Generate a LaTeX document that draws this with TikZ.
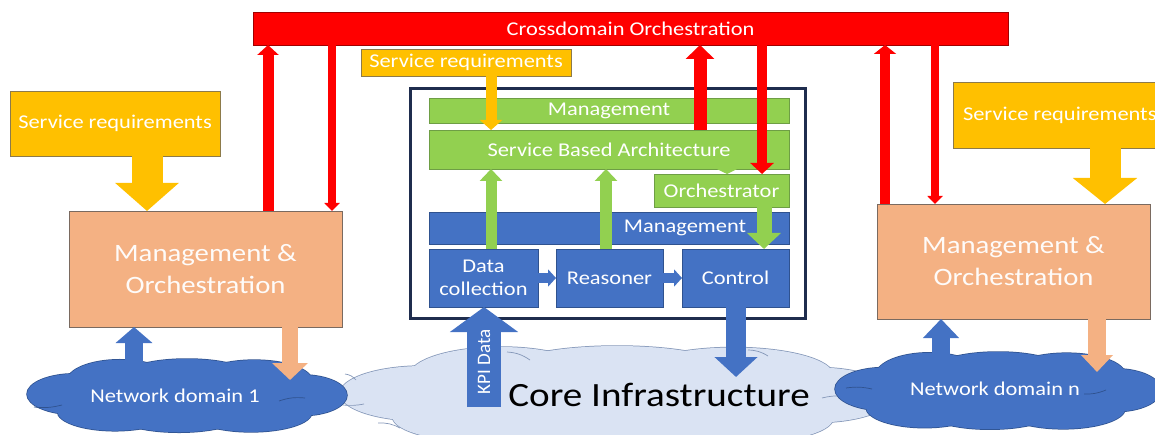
\documentclass[tikz,border=0pt]{standalone}
\usepackage{fontspec}
\setmainfont{Carlito}[FakeStretch=1.15]
\newfontfamily\uprightfont{Carlito}
\usetikzlibrary{arrows.meta}

\definecolor{xred}{HTML}{FF0000}
\definecolor{xrededge}{HTML}{A00000}
\definecolor{xyellow}{HTML}{FFC000}
\definecolor{xyellowedge}{HTML}{8C7A4A}
\definecolor{xsalmon}{HTML}{F4B183}
\definecolor{xsalmonedge}{HTML}{7A6A60}
\definecolor{xgreen}{HTML}{92D050}
\definecolor{xgreenedge}{HTML}{6E9E45}
\definecolor{xblue}{HTML}{4472C4}
\definecolor{xblueedge}{HTML}{2F528F}
\definecolor{xlight}{HTML}{DAE3F3}
\definecolor{xlightedge}{HTML}{8497B8}
\definecolor{xframe}{HTML}{1F2D4E}

\newcommand{\txtS}{\fontsize{19.5}{23}\selectfont}
\newcommand{\txtM}{\fontsize{25}{32}\selectfont}
\newcommand{\txtL}{\fontsize{34}{40}\selectfont}

% lobes of a cloud in unit coordinates: centre x / centre y / radius x / radius y
\newcommand{\cloudlobes}{-0.70/0.05/0.30/0.55, -0.42/0.40/0.33/0.58, 0.00/0.48/0.42/0.52,
  0.42/0.42/0.36/0.55, 0.72/0.02/0.28/0.55, 0.40/-0.45/0.38/0.52,
  -0.05/-0.50/0.40/0.48, -0.45/-0.42/0.36/0.52, 0/0/0.72/0.62}
% \puffcloud{cx}{cy}{half width}{half height}{fill}{edge}
\newcommand{\puffcloud}[6]{%
  \begin{scope}[shift={(#1,#2)}, x=#3pt, y=#4pt]
    \foreach \a/\b/\c/\d in \cloudlobes
      \draw[#6, line width=1.5pt] (\a,\b) ellipse [x radius=\c, y radius=\d];
    \foreach \a/\b/\c/\d in \cloudlobes
      \fill[#5] (\a,\b) ellipse [x radius=\c, y radius=\d];
  \end{scope}}

\tikzset{
  panel/.style={draw, line width=0.6pt, inner sep=0pt, outer sep=0pt,
    anchor=north west, text=white, font=\txtS, align=center},
  redbox/.style={panel, fill=xred, draw=xrededge},
  yellowbox/.style={panel, fill=xyellow, draw=xyellowedge},
  salmonbox/.style={panel, fill=xsalmon, draw=xsalmonedge, font=\txtM, text=white!95!xsalmon},
  greenbox/.style={panel, fill=xgreen, draw=xgreenedge},
  bluebox/.style={panel, fill=xblue, draw=xblueedge},
  label/.style={text=white, font=\txtS, inner sep=0pt},
  crease/.style={line width=0.7pt},
  blk/.style n args={4}{draw=#1, line width=#2, -{Triangle[width=#3,length=#4]}},
}

\begin{document}
\begin{tikzpicture}[x=1pt,y=-1pt]
\useasboundingbox (0,0) rectangle (1155,435);
\clip (0,0) rectangle (1155,435);

% core infrastructure cloud with its inner creases
\puffcloud{617}{396}{277}{50}{xlight}{xlightedge}
\draw[crease, xlightedge] (345,374) to[bend left=20] (356,380);
\draw[crease, xlightedge] (343,405) to[bend right=8] (364,404);
\draw[crease, xlightedge] (378,423) to[bend left=15] (400,428);
\draw[crease, xlightedge] (507,352) to[bend left=15] (530,360);
\draw[crease, xlightedge] (748,350) to[bend left=15] (768,356);
\draw[crease, xlightedge] (822,398) to[bend left=8] (842,396);
\node[font=\txtL, inner sep=0pt] (coretext) at (659,395) {Core Infrastructure};

% domain clouds
\puffcloud{187}{396}{160}{37}{xblue}{xblueedge}
\draw[crease, xblueedge] (34,407) to[bend right=10] (62,405);
\draw[crease, xblueedge] (279,401) to[bend left=12] (305,398);
\node[label] (nd1text) at (175,396) {Network domain 1};
\puffcloud{998}{391}{163}{39}{xblue}{xblueedge}
\draw[crease, xblueedge] (846,388) to[bend left=10] (872,389);
\draw[crease, xblueedge] (1084,394) to[bend right=12] (1106,390);
\node[label] (ndntext) at (995,389) {Network domain n};

% top bar and requirement boxes
\node[redbox, minimum width=755pt, minimum height=33pt] (cross) at (253,12) {Crossdomain Orchestration};
\node[yellowbox, minimum width=210pt, minimum height=65pt] (sr1) at (10,91) {Service requirements};
\node[yellowbox, minimum width=210pt, minimum height=27pt] (sr2) at (361,49) {Service requirements};
\node[yellowbox, minimum width=202pt, minimum height=66pt] (sr3) at (953,82) {\hspace*{10pt}Service requirements};

% domain management & orchestration
\node[salmonbox, minimum width=273pt, minimum height=116pt] (mo1) at (69,211) {Management \&\\Orchestration};
\node[salmonbox, minimum width=273pt, minimum height=115pt] (mo2) at (877,204) {Management \&\\Orchestration};

% core frame
\node[panel, draw=xframe, line width=3pt, fill=white, minimum width=395pt, minimum height=229pt] (frame) at (410,89) {};
\node[greenbox, minimum width=360pt, minimum height=25pt] (mgG) at (429,98) {Management};
\node[greenbox, minimum width=360pt, minimum height=39pt] (sba) at (429,130) {Service Based Architecture};
\node[greenbox, minimum width=135pt, minimum height=33pt] (orch) at (654,174) {Orchestrator};
\node[bluebox, minimum width=360pt, minimum height=32pt] (mgB) at (429,212) {};
\node[label] (mgBtext) at (685,228) {Management};
\node[bluebox, minimum width=109pt, minimum height=58pt] (dc) at (429,249) {Data\\collection};
\node[bluebox, minimum width=107pt, minimum height=58pt] (rs) at (556,249) {Reasoner};
\node[bluebox, minimum width=107pt, minimum height=58pt] (ctl) at (682,249) {Control};

% free ends of arrows
\coordinate (kpiBase) at (484,407);
\coordinate (ctlTip) at (736,377);
\coordinate (nd1Base) at (134,377);
\coordinate (nd1Tip) at (290,380);
\coordinate (ndnBase) at (941,360);
\coordinate (ndnTip) at (1097,372);

% left domain
\draw[blk={xyellow}{31pt}{62pt}{28pt}] (sr1.south -| 147,0) -- (mo1.north -| 147,0);
\draw[blk={xred}{11pt}{21pt}{10pt}] (mo1.north -| 268,0) -- (cross.south -| 268,0);
\draw[blk={xred}{8pt}{15pt}{8pt}] (cross.south -| 332,0) -- (mo1.north -| 332,0);
\draw[blk={xblue}{18pt}{36pt}{16pt}] (nd1Base) -- (mo1.south -| nd1Base);
\draw[blk={xsalmon}{16pt}{35pt}{17pt}] (mo1.south -| nd1Tip) -- (nd1Tip);

% core
\draw[blk={xyellow}{11pt}{22pt}{10pt}] (sr2.south -| 491,0) -- (sba.north -| 491,0);
\draw[blk={xred}{13pt}{28pt}{14pt}] (sba.north -| 700,0) -- (cross.south -| 700,0);
\draw[blk={xgreen}{10pt}{20pt}{5pt}] (sba.south -| 727,0) -- (orch.north -| 727,0);
\draw[blk={xred}{10pt}{23pt}{11pt}] (cross.south -| 762,0) -- (orch.north -| 762,0);
\draw[blk={xgreen}{11pt}{22pt}{12pt}] (dc.north -| 491,0) -- (sba.south -| 491,0);
\draw[blk={xgreen}{12pt}{22pt}{12pt}] (rs.north -| 606,0) -- (sba.south -| 606,0);
\draw[blk={xgreen}{15pt}{33pt}{16pt}] (orch.south -| 764,0) -- (ctl.north -| 764,0);
\draw[blk={xblue}{10pt}{17pt}{8pt}] (dc.east) -- (rs.west);
\draw[blk={xblue}{10pt}{17pt}{8pt}] (rs.east) -- (ctl.west);
\draw[blk={xblue}{34pt}{67pt}{25pt}] (kpiBase) -- (dc.south -| kpiBase);
\node[label, rotate=90, font=\uprightfont\fontsize{19}{23}\selectfont] (kpitext) at (484,362) {KPI Data};
\draw[blk={xblue}{20pt}{42pt}{20pt}] (ctl.south -| ctlTip) -- (ctlTip);

% right domain
\draw[blk={xyellow}{31pt}{63pt}{26pt}] (sr3.south -| 1105,0) -- (mo2.north -| 1105,0);
\draw[blk={xred}{10pt}{22pt}{9pt}] (mo2.north -| 885,0) -- (cross.south -| 885,0);
\draw[blk={xred}{8pt}{15pt}{8pt}] (cross.south -| 935,0) -- (mo2.north -| 935,0);
\draw[blk={xblue}{18pt}{35pt}{19pt}] (ndnBase) -- (mo2.south -| ndnBase);
\draw[blk={xsalmon}{18pt}{31pt}{17pt}] (mo2.south -| ndnTip) -- (ndnTip);
\end{tikzpicture}
\end{document}
